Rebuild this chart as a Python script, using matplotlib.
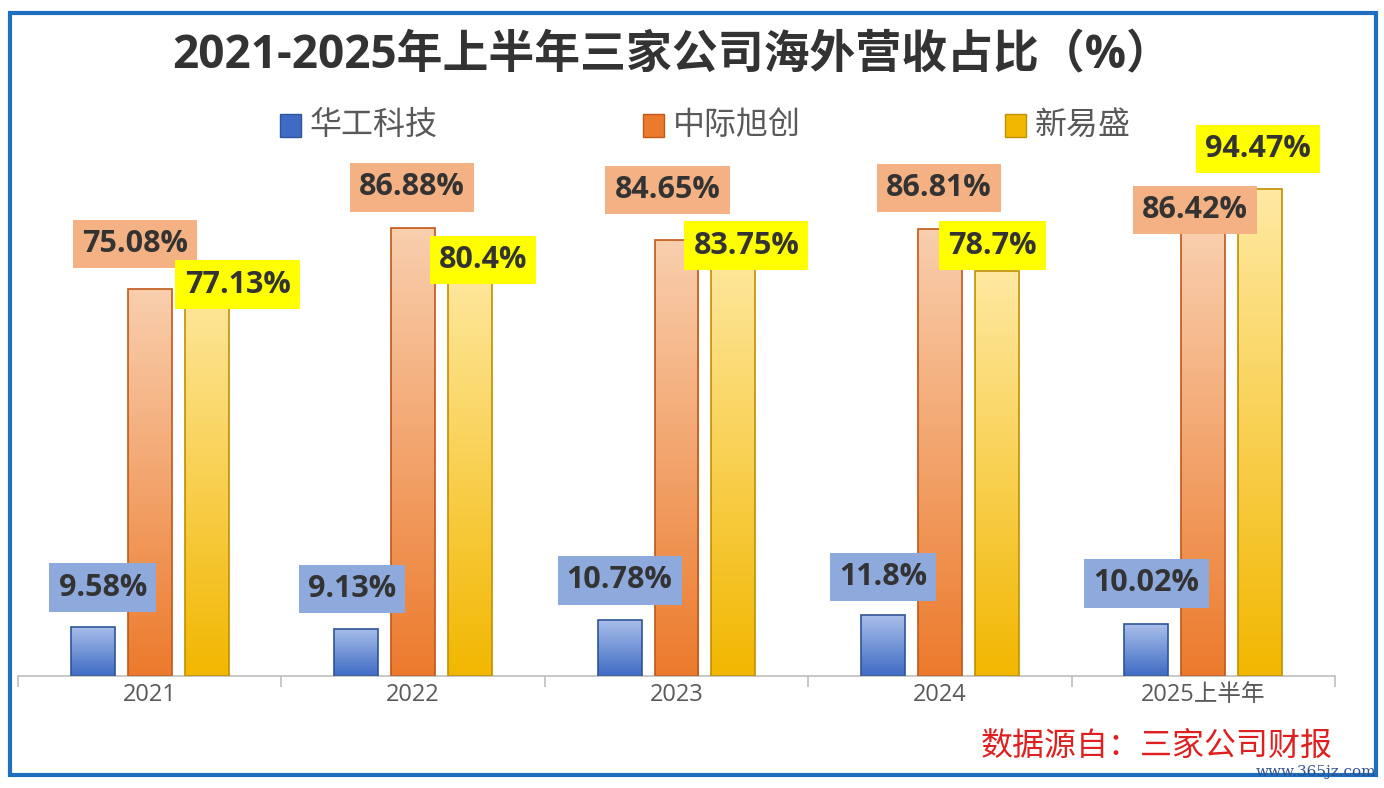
import numpy as np
import matplotlib.pyplot as plt
from matplotlib.patches import Rectangle
from matplotlib.colors import LinearSegmentedColormap

plt.rcParams['font.family'] = ['Noto Sans CJK SC', 'DejaVu Sans']
MIXED = ['Open Sans', 'Noto Sans CJK SC', 'DejaVu Sans']

# =============================
# 数据
# =============================
categories = ['2021', '2022', '2023', '2024', '2025上半年']
companies = ['华工科技', '中际旭创', '新易盛']
huagong = [9.58, 9.13, 10.78, 11.8, 10.02]
zhongji = [75.08, 86.88, 84.65, 86.81, 86.42]
xinyisheng = [77.13, 80.4, 83.75, 78.7, 94.47]
label_texts = [
    ['9.58%', '9.13%', '10.78%', '11.8%', '10.02%'],
    ['75.08%', '86.88%', '84.65%', '86.81%', '86.42%'],
    ['77.13%', '80.4%', '83.75%', '78.7%', '94.47%'],
]

# 标签偏移 (像素)
label_offsets = [
    [(10, 39), (-4, 40), (0, 40), (0, 38), (0, 41)],
    [(-15, 45), (-1, 41), (-9, 50), (-1, 41), (-8, 21)],
    [(31, -6), (13, 2), (13, -1), (-4, 25), (-2, 40)],
]

# 颜色: (底部深色, 顶部浅色, 边框, 标签底色)
styles = [
    ('#3F6BC4', '#A9BFEA', '#2F5597', '#8EA9DB'),
    ('#EC7A2C', '#F9CFAE', '#C0581A', '#F4B183'),
    ('#F2B700', '#FFE9A3', '#C09000', '#FFFF00'),
]

W, H = 1384, 788
fig = plt.figure(figsize=(W / 100, H / 100), dpi=100)
fig.patch.set_facecolor('white')

ax = fig.add_axes([18 / W, (H - 676) / H, (1335 - 18) / W, (676 - 150) / H])
ax.set_facecolor('none')

series = [huagong, zhongji, xinyisheng]
n = len(categories)
x = np.arange(n)
bar_w = 0.167
step = 0.216
grad = np.linspace(0, 1, 256).reshape(-1, 1)

for k, vals in enumerate(series):
    dark, light, edge, _ = styles[k]
    cmap = LinearSegmentedColormap.from_list('g%d' % k, [dark, light])
    bars = ax.bar(x + (k - 1) * step, vals, width=bar_w, facecolor='none',
                  edgecolor=edge, linewidth=1.2, zorder=3)
    for b in bars:
        x0 = b.get_x()
        h = b.get_height()
        im = ax.imshow(grad, cmap=cmap, origin='lower', aspect='auto',
                       extent=[x0, x0 + b.get_width(), 0, h], zorder=2)
        im.set_clip_path(b)

ax.set_xlim(-0.5, n - 0.5)
ax.set_ylim(0, 102.1)

for s in ['top', 'right', 'left']:
    ax.spines[s].set_visible(False)
ax.spines['bottom'].set_color('#BFBFBF')
ax.spines['bottom'].set_linewidth(1.2)
ax.set_yticks([])
ax.set_xticks(np.arange(n + 1) - 0.5)
ax.set_xticklabels([])
ax.tick_params(axis='x', which='major', length=8, color='#BFBFBF', width=1.2)
ax.set_xticks(x, minor=True)
ax.set_xticklabels(categories, minor=True, fontsize=17, color='#595959',
                   family=MIXED)
ax.tick_params(axis='x', which='minor', length=0, pad=5)

# 数据标签
for k, vals in enumerate(series):
    box_col = styles[k][3]
    for i, v in enumerate(vals):
        dx, dy = label_offsets[k][i]
        ax.annotate(label_texts[k][i], (x[i] + (k - 1) * step, v),
                    xytext=(dx, dy), textcoords='offset pixels',
                    ha='center', va='center', fontsize=22, fontweight='bold',
                    family=MIXED, color='#333333', zorder=5 + k,
                    annotation_clip=False,
                    bbox=dict(boxstyle='square,pad=0.3', facecolor=box_col,
                              edgecolor='none'))

# 标题
fig.text(672 / W, 1 - 55 / H, '2021-2025年上半年三家公司海外营收占比（%）',
         ha='center', va='center', fontsize=33, fontweight='bold',
         color='#333333', family=MIXED)

# 图例
legend_x = [280, 643, 1005]
for k, name in enumerate(companies):
    dark, light, edge, _ = styles[k]
    lx = legend_x[k]
    fig.add_artist(Rectangle((lx / W, 1 - 137 / H), 21 / W, 23 / H,
                             transform=fig.transFigure, facecolor=dark,
                             edgecolor=edge, linewidth=1))
    fig.text((lx + 30) / W, 1 - 125 / H, name, ha='left', va='center',
             fontsize=23, color='#595959')

# 数据来源
fig.text(1333 / W, 1 - 746 / H, '数据源自：三家公司财报', ha='right', va='center',
         fontsize=23, color='#E02020')
fig.text(1376 / W, 1 - 772 / H, 'www.365jz.com', ha='right', va='center',
         fontsize=11, color='#2F4F8F', family='DejaVu Serif')

# 外框
fig.add_artist(Rectangle((10 / W, 1 - 775 / H), (1376 - 10) / W, (775 - 13) / H,
                         transform=fig.transFigure, fill=False,
                         edgecolor='#1E6FC0', linewidth=3))

fig.savefig('out.png', dpi=100, facecolor=fig.get_facecolor())
